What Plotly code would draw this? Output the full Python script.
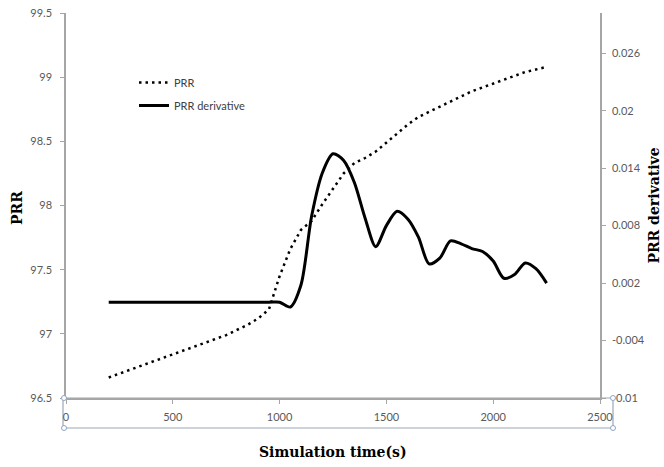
import plotly.graph_objects as go

# ---- data ----
time_prr = [200, 250, 300, 350, 400, 450, 500, 550, 600, 650, 700, 750, 800, 850, 900, 950,
            1000, 1050, 1100, 1150, 1200, 1250, 1300, 1350, 1400, 1450, 1500, 1550, 1600,
            1650, 1700, 1750, 1800, 1850, 1900, 1950, 2000, 2050, 2100, 2150, 2200, 2250]
prr = [96.66, 96.69, 96.72, 96.75, 96.78, 96.81, 96.84, 96.87, 96.90, 96.93, 96.96, 96.99,
       97.03, 97.07, 97.12, 97.19, 97.45, 97.66, 97.81, 97.88, 98.01, 98.13, 98.25, 98.33,
       98.37, 98.42, 98.49, 98.56, 98.63, 98.69, 98.73, 98.77, 98.81, 98.85, 98.89, 98.92,
       98.95, 98.98, 99.01, 99.04, 99.06, 99.08]

time_der = [200, 400, 600, 800, 950, 1000, 1050, 1100, 1150, 1200, 1250, 1300, 1350, 1400,
            1450, 1500, 1550, 1600, 1650, 1700, 1750, 1800, 1850, 1900, 1950, 2000, 2050,
            2100, 2150, 2200, 2250]
prr_der = [0.0, 0.0, 0.0, 0.0, 0.0, 0.0, -0.0005, 0.0018, 0.0090, 0.0135, 0.0155, 0.0148,
           0.0125, 0.0088, 0.0058, 0.0080, 0.0095, 0.0087, 0.0068, 0.0040, 0.0046, 0.0064,
           0.0061, 0.0056, 0.0053, 0.0043, 0.0025, 0.0029, 0.0041, 0.0035, 0.0020]

x_ticks = [0, 500, 1000, 1500, 2000, 2500]
left_ticks = [96.5, 97, 97.5, 98, 98.5, 99, 99.5]
right_ticks = [-0.01, -0.004, 0.002, 0.008, 0.014, 0.02, 0.026]

W, H = 664, 467
ML, MR, MT, MB = 66, 64, 13, 69
PW, PH = W - ML - MR, H - MT - MB


def px(x):
    return (x - ML) / PW


def py(y):
    return (H - MB - y) / PH


tick_font = dict(family="Lato, Liberation Sans, sans-serif", size=11, color="#595959")
axis_col = "#a6a6a6"
title_font = dict(family="DejaVu Serif, Liberation Serif, serif", size=14, color="#000000")

fig = go.Figure()
fig.add_trace(go.Scatter(
    x=time_prr, y=prr, name="PRR", mode="lines",
    line=dict(color="#000000", width=2.5, dash="2.5px,4px"),
    legendgroup="a", yaxis="y",
))
fig.add_trace(go.Scatter(
    x=time_der, y=prr_der, name="PRR derivative", mode="lines",
    line=dict(color="#000000", width=3, shape="spline", smoothing=0.8),
    legendgroup="b", yaxis="y2",
))

common = dict(ticks="outside", ticklen=4, tickcolor=axis_col, showline=True,
              linecolor=axis_col, linewidth=1.5, showgrid=False, zeroline=False,
              tickfont=tick_font, automargin=False)

fig.update_layout(
    width=W, height=H,
    margin=dict(l=ML, r=MR, t=MT, b=MB, pad=0, autoexpand=False),
    paper_bgcolor="white", plot_bgcolor="white",
    showlegend=True,
    legend=dict(x=px(134), y=py(68), xanchor="left", yanchor="top",
                font=dict(family="Lato, Liberation Sans, sans-serif", size=11, color="#404040"),
                bgcolor="rgba(0,0,0,0)", tracegroupgap=4, traceorder="grouped"),
    xaxis=dict(range=[0, 2500], tickvals=x_ticks, ticktext=[f"{v:g}" for v in x_ticks],
               ticklabelstandoff=4, **common),
    yaxis=dict(range=[96.5, 99.5], tickvals=left_ticks,
               ticktext=[f"{v:g}" for v in left_ticks], ticklabelstandoff=6, **common),
    yaxis2=dict(range=[-0.01, 0.0302], tickvals=right_ticks,
                ticktext=[f"{v:g}" for v in right_ticks], overlaying="y", side="right",
                ticklabelstandoff=4,
                title=dict(text="<b>PRR derivative</b>", font=title_font, standoff=5),
                **common),
)

# axis selection box with handles (decoration of the original screenshot)
box_col = "#9aa7b8"
fig.add_shape(type="rect", xref="paper", yref="paper",
              x0=px(63), x1=px(613), y0=py(428), y1=py(398),
              line=dict(color=box_col, width=1.2), fillcolor="rgba(0,0,0,0)", layer="below")
for cx, cy in [(64, 398), (613, 398), (64, 428), (613, 428)]:
    fig.add_shape(type="circle", xref="paper", yref="paper",
                  xsizemode="pixel", ysizemode="pixel",
                  xanchor=px(cx), yanchor=py(cy), x0=-2.5, x1=2.5, y0=-2.5, y1=2.5,
                  line=dict(color="#8fa6c4", width=1), fillcolor="white")

fig.add_annotation(text="<b>Simulation time(s)</b>", xref="paper", yref="paper",
                   x=px(333), y=py(452), showarrow=False, font=title_font,
                   xanchor="center", yanchor="middle")
fig.add_annotation(text="<b>PRR</b>", xref="paper", yref="paper",
                   x=px(17), y=py(208), showarrow=False, font=title_font, textangle=-90,
                   xanchor="center", yanchor="middle")

fig.write_html("out.html", config={"displayModeBar": False},
               post_script="document.body.style.margin='0px';document.body.style.padding='0px';")
